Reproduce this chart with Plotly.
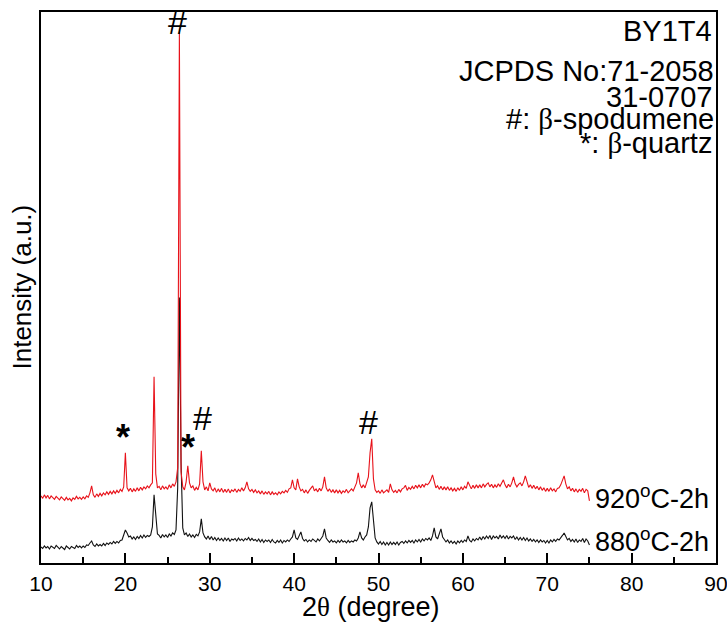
import numpy as np
import plotly.graph_objects as go

# 2theta scan: 10.0 .. 75.0 deg, step 0.2
START, STEP = 10.0, 0.2

# 880 C - 2h (black), one row per degree (x.0, x.2, x.4, x.6, x.8)
black_880 = [
    32, 29, 34, 30, 33,  # 10
    28, 34, 31, 29, 35,  # 11
    31, 28, 33, 30, 27,  # 12
    34, 30, 28, 33, 31,  # 13
    29, 35, 31, 34, 30,  # 14
    34, 31, 36, 35, 40,  # 15
    44, 36, 33, 38, 34,  # 16
    37, 34, 39, 35, 40,  # 17
    37, 41, 38, 43, 39,  # 18
    43, 40, 45, 46, 56,  # 19
    66, 60, 52, 54, 48,  # 20
    52, 47, 53, 49, 55,  # 21
    50, 56, 51, 55, 53,  # 22
    56, 72, 136, 92, 58,  # 23
    55, 50, 57, 52, 56,  # 24
    51, 58, 54, 60, 57,  # 25
    66, 150, 530, 200, 70,  # 26
    56, 60, 53, 58, 52,  # 27
    56, 51, 57, 54, 62,  # 28
    88, 60, 52, 48, 54,  # 29
    47, 53, 46, 51, 45,  # 30
    50, 45, 49, 44, 50,  # 31
    45, 50, 43, 48, 46,  # 32
    49, 44, 50, 45, 48,  # 33
    44, 49, 46, 51, 45,  # 34
    49, 45, 47, 43, 48,  # 35
    42, 47, 41, 46, 43,  # 36
    46, 41, 47, 42, 40,  # 37
    45, 41, 46, 40, 45,  # 38
    42, 46, 43, 48, 52,  # 39
    66, 50, 47, 55, 62,  # 40
    49, 44, 47, 42, 46,  # 41
    43, 48, 44, 42, 48,  # 42
    44, 49, 54, 68, 50,  # 43
    45, 41, 46, 42, 44,  # 44
    40, 45, 41, 46, 42,  # 45
    44, 40, 45, 41, 44,  # 46
    42, 46, 44, 50, 62,  # 47
    50, 46, 52, 56, 72,  # 48
    110, 122, 78, 50, 42,  # 49
    38, 43, 37, 42, 36,  # 50
    41, 36, 42, 37, 41,  # 51
    37, 42, 36, 41, 43,  # 52
    39, 44, 40, 45, 41,  # 53
    45, 40, 46, 42, 47,  # 54
    42, 48, 44, 49, 46,  # 55
    50, 45, 54, 70, 52,  # 56
    48, 58, 68, 52, 46,  # 57
    42, 46, 40, 44, 39,  # 58
    43, 38, 44, 40, 45,  # 59
    41, 46, 43, 54, 45,  # 60
    42, 48, 44, 49, 46,  # 61
    52, 46, 53, 48, 54,  # 62
    49, 55, 47, 54, 50,  # 63
    53, 48, 56, 50, 54,  # 64
    49, 55, 48, 53, 50,  # 65
    54, 47, 52, 46, 51,  # 66
    46, 51, 45, 50, 44,  # 67
    48, 43, 47, 42, 46,  # 68
    41, 46, 42, 45, 40,  # 69
    45, 40, 46, 42, 47,  # 70
    43, 48, 46, 52, 55,  # 71
    60, 51, 46, 49, 43,  # 72
    47, 42, 48, 41, 46,  # 73
    43, 49, 41, 48, 44,  # 74
    36,                  # 75
]

# 920 C - 2h (red, plotted with vertical offset already included)
red_920 = [
    134, 129, 136, 130, 135,  # 10
    128, 134, 130, 127, 133,  # 11
    129, 126, 132, 128, 125,  # 12
    131, 126, 129, 124, 130,  # 13
    127, 133, 128, 131, 127,  # 14
    132, 128, 134, 131, 140,  # 15
    154, 136, 131, 138, 133,  # 16
    139, 134, 140, 136, 142,  # 17
    137, 143, 138, 144, 139,  # 18
    145, 140, 147, 143, 152,  # 19
    220, 150, 144, 149, 142,  # 20
    148, 143, 150, 144, 151,  # 21
    146, 152, 148, 154, 150,  # 22
    156, 160, 372, 178, 150,  # 23
    153, 146, 154, 148, 152,  # 24
    147, 156, 150, 158, 153,  # 25
    162, 190, 1060, 182, 152,  # 26
    146, 162, 194, 160, 150,  # 27
    154, 145, 151, 146, 158,  # 28
    224, 162, 146, 152, 144,  # 29
    160, 148, 144, 150, 141,  # 30
    148, 142, 149, 141, 147,  # 31
    141, 148, 140, 146, 143,  # 32
    148, 141, 147, 143, 150,  # 33
    144, 150, 162, 148, 143,  # 34
    147, 141, 146, 140, 144,  # 35
    138, 144, 137, 142, 138,  # 36
    143, 136, 142, 137, 140,  # 37
    136, 142, 138, 143, 140,  # 38
    145, 141, 148, 150, 166,  # 39
    150, 146, 168, 152, 144,  # 40
    147, 140, 146, 139, 145,  # 41
    150, 154, 144, 148, 142,  # 42
    149, 144, 152, 172, 150,  # 43
    143, 148, 141, 146, 140,  # 44
    146, 140, 145, 139, 144,  # 45
    141, 147, 140, 145, 148,  # 46
    144, 152, 160, 180, 158,  # 47
    150, 156, 150, 162, 172,  # 48
    220, 248, 168, 146, 141,  # 49
    144, 139, 146, 140, 143,  # 50
    146, 141, 158, 146, 141,  # 51
    145, 140, 147, 142, 148,  # 52
    150, 155, 145, 151, 147,  # 53
    153, 148, 155, 150, 156,  # 54
    150, 157, 152, 158, 156,  # 55
    160, 166, 176, 162, 150,  # 56
    154, 147, 153, 146, 152,  # 57
    146, 152, 145, 150, 144,  # 58
    149, 143, 150, 145, 152,  # 59
    146, 153, 149, 162, 154,  # 60
    148, 155, 149, 156, 150,  # 61
    156, 150, 158, 152, 157,  # 62
    160, 152, 157, 150, 156,  # 63
    151, 158, 153, 160, 166,  # 64
    156, 150, 157, 152, 160,  # 65
    172, 158, 152, 157, 160,  # 66
    154, 162, 174, 160, 151,  # 67
    156, 149, 155, 148, 153,  # 68
    146, 152, 145, 150, 143,  # 69
    149, 143, 150, 144, 148,  # 70
    142, 149, 150, 156, 164,  # 71
    174, 158, 148, 152, 144,  # 72
    149, 142, 148, 141, 147,  # 73
    143, 149, 140, 147, 144,  # 74
    124,                      # 75
]

x_ticks = [10, 20, 30, 40, 50, 60, 70, 80, 90]
series_labels = ["920<sup>o</sup>C-2h", "880<sup>o</sup>C-2h"]

n = min(len(black_880), len(red_920))
two_theta = np.round(START + STEP * np.arange(n), 1)

FONT = "Liberation Sans, Arial, sans-serif"
SERIF = "Liberation Serif"

fig = go.Figure()
fig.add_trace(go.Scatter(x=two_theta, y=black_880[:n], mode="lines",
                         line=dict(color="#111111", width=1.1), showlegend=False))
fig.add_trace(go.Scatter(x=two_theta, y=red_920[:n], mode="lines",
                         line=dict(color="#e8121a", width=1.1), showlegend=False))

axis_common = dict(showline=True, linecolor="black", linewidth=2, mirror=True,
                   showgrid=False, zeroline=False)

fig.update_layout(
    width=727, height=627,
    margin=dict(l=41, r=11, t=12, b=64, autoexpand=False),
    paper_bgcolor="white", plot_bgcolor="white",
    font=dict(family=FONT, color="black"),
    xaxis=dict(range=[10, 90], tickvals=x_ticks, ticktext=[str(v) for v in x_ticks],
               ticks="inside", ticklen=10, tickwidth=2, tickcolor="black",
               tickfont=dict(size=21, family=FONT), ticklabelstandoff=1,
               ticklabeloverflow="allow",
               minor=dict(ticks="inside", ticklen=6, tickwidth=2, tickcolor="black", dtick=5, tick0=5),
               **axis_common),
    yaxis=dict(range=[0, 1100], showticklabels=False, ticks="", **axis_common),
)

ann = []
def add(text, x, y, size, xanchor="center", yanchor="middle", xref="x", yref="y", angle=0):
    ann.append(dict(text=text, x=x, y=y, xref=xref, yref=yref, showarrow=False,
                    xanchor=xanchor, yanchor=yanchor, textangle=angle,
                    font=dict(size=size, family=FONT, color="black")))

beta = f'<span style="font-family:{SERIF}">β</span>'
theta = f'<span style="font-family:{SERIF}">θ</span>'

# header text (top right) - positions in plot pixels converted to paper coords
def py(pix):
    return (563 - pix) / 551

add("BY1T4", 0.997, py(31), 29, xanchor="right", xref="paper", yref="paper")
add("JCPDS No:71-2058", 1.0, py(71), 29, xanchor="right", xref="paper", yref="paper")
add("31-0707", 0.997, py(97), 29, xanchor="right", xref="paper", yref="paper")
add(f"#: {beta}-spodumene", 1.0, py(119), 29, xanchor="right", xref="paper", yref="paper")
add(f"*: {beta}-quartz", 0.997, py(143), 29, xanchor="right", xref="paper", yref="paper")

# series labels
add(series_labels[0], 75.4, 132, 27, xanchor="left")
add(series_labels[1], 75.4, 46, 27, xanchor="left")

# peak markers
add("#", 26.2, 1080, 34)
add("<b>*</b>", 19.74, 250, 36)
add("<b>*</b>", 27.46, 230, 36)
add("#", 29.12, 290, 34)
add("#", 48.84, 282, 34)

# axis titles
add("Intensity (a.u.)", (21 - 41) / 675, 0.5, 26, xref="paper", yref="paper", angle=-90)
add(f"2{theta} (degree)", (371 - 41) / 675, py(607), 27, xref="paper", yref="paper")

fig.update_layout(annotations=ann)
fig.write_html("out.html", config={"displayModeBar": False},
               post_script="document.body.style.margin='0px';")
